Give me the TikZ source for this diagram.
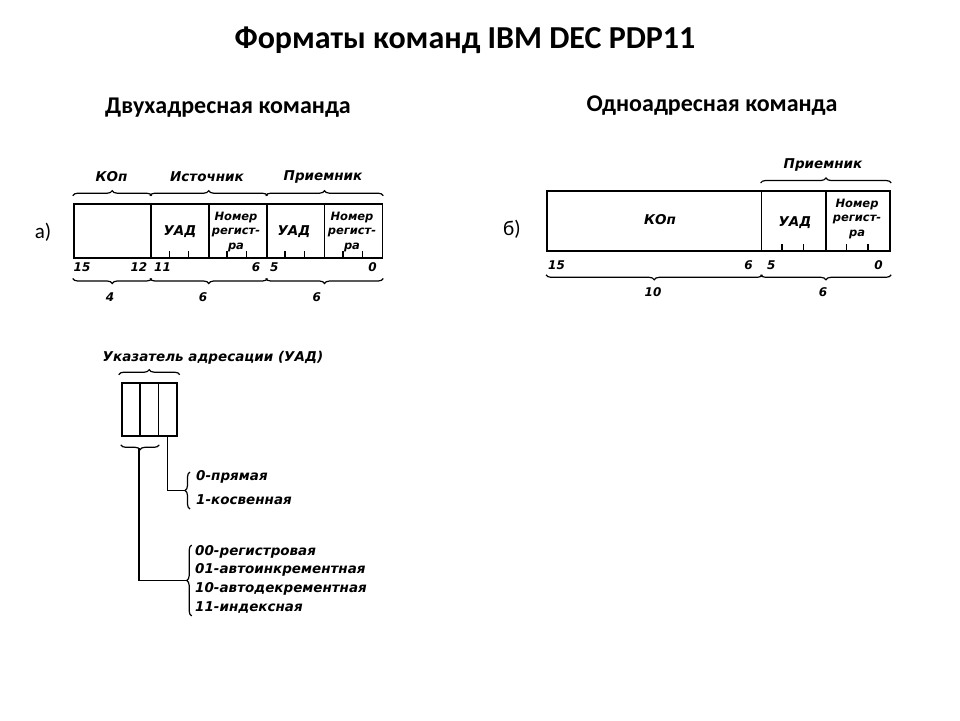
\documentclass[tikz,border=0pt]{standalone}
\usepackage{fontspec}
\setmainfont{Carlito}
\newfontfamily\scanfont{DejaVu Sans}
\usetikzlibrary{decorations.pathreplacing}

\begin{document}
\begin{tikzpicture}[x=1pt, y=-1pt,
  fld/.style={draw, line width=1.8pt, inner sep=0pt, anchor=north west},
  br/.style={decorate, decoration={brace, amplitude=5pt}, line width=1.2pt},
  conn/.style={line width=1.6pt},
  tick/.style={line width=1.4pt},
  lbl/.style={inner sep=0pt, font=\scanfont\bfseries\itshape\fontsize{13.5}{14}\selectfont},
  sml/.style={inner sep=0pt, align=center, font=\scanfont\bfseries\itshape\fontsize{11.5}{14.5}\selectfont},
  num/.style={inner sep=0pt, font=\scanfont\bfseries\itshape\fontsize{12}{12}\selectfont},
  head/.style={inner sep=0pt, font=\bfseries\fontsize{24}{24}\selectfont}]

 \useasboundingbox (0,0) rectangle (960,720);

 %%%  titles

 \node [inner sep=0pt, font=\bfseries\fontsize{32}{32}\selectfont] (title) at (465,40) {Форматы команд IBM DEC PDP11};
 \node [head] (two) at (228,108) {Двухадресная команда};
 \node [head] (one) at (712,106) {Одноадресная команда};
 \node [inner sep=0pt, font=\fontsize{21}{21}\selectfont] (la) at (43,232) {а)};
 \node [inner sep=0pt, font=\fontsize{21}{21}\selectfont] (lb) at (512,229) {б)};

 %%%  two-address format

 % fields
 \node [fld, minimum width=77.2pt, minimum height=54pt] (kop2) at (72.7,202.7) {};
 \node [fld, minimum width=57.9pt, minimum height=54pt] (srcm) at (149.9,202.7) {};
 \node [fld, minimum width=57.9pt, minimum height=54pt] (srcr) at (207.8,202.7) {};
 \node [fld, minimum width=57.9pt, minimum height=54pt] (dstm) at (265.7,202.7) {};
 \node [fld, minimum width=57.9pt, minimum height=54pt] (dstr) at (323.6,202.7) {};

 \node [lbl] (srcmt) at (180,231.7) {УАД};
 \node [sml] (srcrt) at (236,232) {Номер\\регист-\\ра};
 \node [lbl] (dstmt) at (294,231.7) {УАД};
 \node [sml] (dstrt) at (352,232) {Номер\\регист-\\ра};

 \foreach \k in {5,6,8,9,11,12,14,15}
  \draw [tick] ({72.7+\k*19.3},256.7) -- ++(0,-6);

 % braces
 \draw [br] ([yshift=7pt]kop2.north west) -- ([yshift=7pt]kop2.north east);
 \draw [br] ([yshift=7pt]srcm.north west) -- ([yshift=7pt]srcr.north east);
 \draw [br] ([yshift=7pt]dstm.north west) -- ([yshift=7pt]dstr.north east);
 \node [lbl] (kop2t) at (111.5,176.7) {КОп};
 \node [lbl] (srct) at (207,176.7) {Источник};
 \node [lbl] (dstt) at (323,176.7) {Приемник};

 \node [num, anchor=west] (b15) at (73.5,267.3) {15};
 \node [num, anchor=east] (b12) at (147.5,267.3) {12};
 \node [num, anchor=west] (b11) at (154,267.3) {11};
 \node [num, anchor=east] (b6) at (260.5,267.3) {6};
 \node [num, anchor=west] (b5) at (270,267.3) {5};
 \node [num, anchor=east] (b0) at (377,267.3) {0};

 \draw [br] ([yshift=-20pt]kop2.south east) -- ([yshift=-20pt]kop2.south west);
 \draw [br] ([yshift=-20pt]srcr.south east) -- ([yshift=-20pt]srcm.south west);
 \draw [br] ([yshift=-20pt]dstr.south east) -- ([yshift=-20pt]dstm.south west);
 \node [num] (w4) at (110,296.7) {4};
 \node [num] (w6a) at (203,296.7) {6};
 \node [num] (w6b) at (316.7,296.7) {6};

 %%%  one-address format

 \node [fld, minimum width=214.6pt, minimum height=60pt] (kop1) at (546,190) {};
 \node [fld, minimum width=64.4pt, minimum height=60pt] (dm1) at (760.6,190) {};
 \node [fld, minimum width=64.4pt, minimum height=60pt] (dr1) at (825,190) {};

 \node [lbl] (kop1t) at (660,220) {КОп};
 \node [lbl] (dm1t) at (795,222.7) {УАД};
 \node [sml] (dr1t) at (857,219) {Номер\\регист-\\ра};

 \foreach \k in {11,12,14,15}
  \draw [tick] ({546+\k*21.46},250) -- ++(0,-6);

 \draw [br] ([yshift=7pt]dm1.north west) -- ([yshift=7pt]dr1.north east);
 \node [lbl] (dst1t) at (823,165) {Приемник};

 \node [num, anchor=west] (c15) at (548,265) {15};
 \node [num, anchor=east] (c6) at (753,265) {6};
 \node [num, anchor=west] (c5) at (767,265) {5};
 \node [num, anchor=east] (c0) at (883,265) {0};

 \draw [br] ([yshift=-23pt]kop1.south east) -- ([yshift=-23pt]kop1.south west);
 \draw [br] ([yshift=-23pt]dr1.south east) -- ([yshift=-23pt]dm1.south west);
 \node [num] (w10) at (653,291.7) {10};
 \node [num] (w6c) at (823,291.7) {6};

 %%%  addressing mode field

 \node [fld, minimum width=18.4pt, minimum height=53.3pt] (uadA) at (120.7,381.7) {};
 \node [fld, minimum width=18.4pt, minimum height=53.3pt] (uadB) at (139.1,381.7) {};
 \node [fld, minimum width=18.4pt, minimum height=53.3pt] (uadC) at (157.5,381.7) {};

 \draw [br] ([xshift=-2pt,yshift=7pt]uadA.north west) -- ([xshift=2pt,yshift=7pt]uadC.north east);
 \node [lbl] (uadt) at (213,358) {Указатель адресации (УАД)};

 \draw [br] ([yshift=-8pt]uadB.south east) -- ([yshift=-8pt]uadA.south west);
 \coordinate (tipAB) at (139.1,448.3);

 \draw [br] (190,509) -- (190,472);
 \coordinate (tip1) at (185,490.5);
 \draw [br] (191.7,616) -- (191.7,545);
 \coordinate (tip2) at (186.7,580.5);

 \draw [conn] (uadC.south) |- (tip1);
 \draw [conn] (tipAB) |- (tip2);

 \node [lbl, anchor=west] (m0) at (196,477.3) {0-прямая};
 \node [lbl, anchor=west] (m1) at (196,500) {1-косвенная};
 \node [lbl, anchor=west] (m00) at (195,551.7) {00-регистровая};
 \node [lbl, anchor=west] (m01) at (195,570) {01-автоинкрементная};
 \node [lbl, anchor=west] (m10) at (195,589.3) {10-автодекрементная};
 \node [lbl, anchor=west] (m11) at (195,607.7) {11-индексная};

\end{tikzpicture}
\end{document}
